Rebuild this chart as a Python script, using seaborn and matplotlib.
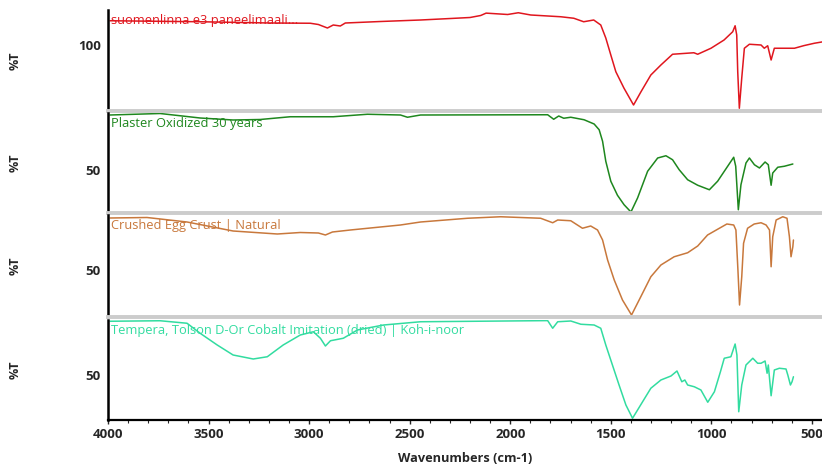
import numpy as np
import pandas as pd
import matplotlib
matplotlib.use("Agg")
import matplotlib.pyplot as plt
from matplotlib.ticker import MultipleLocator
import seaborn as sns

# spectra (wavenumber cm-1, %T)
wn_red = [3990, 3542, 3193, 2994, 2954, 2909, 2880, 2845, 2820, 2645, 2446, 2297, 2200, 2147, 2120,
          2013, 1960, 1898, 1749, 1684, 1635, 1585, 1550, 1525, 1500, 1475, 1435, 1387, 1350, 1301,
          1251, 1193, 1087, 1068, 1002, 937, 894, 882, 874, 869, 861, 849, 836, 811, 753, 737, 720,
          703, 687, 587, 540, 488, 444]
t_red = [119.4, 118.6, 117.6, 117.4, 116.4, 113.6, 116.0, 115.2, 117.6, 118.8, 120.0, 121.2, 122.0, 123.6, 125.5,
         124.4, 125.8, 124.0, 122.6, 121.4, 118.6, 120.0, 116.0, 105.6, 92.0, 78.6, 65.6, 52.0, 62.6, 76.0,
         84.0, 92.6, 93.8, 92.6, 97.4, 104.0, 110.6, 115.4, 108.0, 78.6, 49.4, 73.6, 97.4, 100.6, 100.0, 97.4, 99.4,
         88.0, 97.4, 97.4, 99.5, 101.4, 102.6]

wn_green = [3990, 3741, 3542, 3378, 3243, 3094, 2880, 2710, 2546, 2511, 2446, 1814, 1784, 1759, 1734,
            1699, 1633, 1583, 1558, 1541, 1525, 1500, 1467, 1434, 1400, 1367, 1317, 1267, 1226, 1193,
            1160, 1118, 1068, 1010, 969, 919, 889, 879, 866, 853, 828, 811, 786, 761, 733, 717, 703,
            695, 670, 637, 595]
t_green = [94.0, 95.2, 91.6, 90.0, 90.4, 92.6, 92.6, 94.6, 94.0, 92.2, 94.0, 94.2, 90.6, 93.2, 91.4,
           92.2, 90.2, 86.8, 82.2, 73.0, 57.0, 41.0, 29.8, 22.2, 16.4, 27.6, 49.0, 59.6, 61.4, 58.2,
           50.2, 42.2, 37.8, 34.2, 41.0, 53.0, 60.2, 53.0, 18.2, 38.2, 55.6, 59.6, 54.2, 51.6, 56.4, 54.2, 37.8,
           47.6, 52.2, 53.0, 54.8]

wn_orange = [3990, 3806, 3607, 3378, 3158, 3044, 2954, 2919, 2884, 2795, 2546, 2446, 2212, 2048, 1849,
             1789, 1764, 1699, 1641, 1600, 1566, 1541, 1516, 1483, 1442, 1397, 1351, 1301, 1251, 1185,
             1118, 1068, 1019, 969, 923, 889, 878, 868, 860, 849, 840, 820, 787, 753, 728, 711, 703,
             695, 678, 645, 624, 612, 604, 595, 592]
t_orange = [91.6, 92.0, 88.4, 81.2, 78.8, 80.0, 79.6, 78.0, 80.4, 82.0, 86.0, 88.4, 91.4, 92.6, 91.4,
            87.8, 90.0, 89.4, 83.4, 85.2, 82.0, 74.0, 58.0, 42.0, 26.0, 14.0, 28.6, 44.6, 54.0, 60.6,
            63.8, 69.2, 78.0, 82.6, 86.8, 86.0, 82.0, 50.0, 22.0, 44.6, 71.4, 83.4, 86.8, 87.8, 86.0, 82.0, 52.6,
            76.6, 90.0, 92.6, 91.4, 76.6, 60.6, 68.6, 74.0]

wn_teal = [3990, 3741, 3607, 3542, 3457, 3378, 3278, 3208, 3129, 3044, 2979, 2944, 2919, 2894, 2830,
           2760, 2630, 2446, 1814, 1789, 1764, 1699, 1649, 1583, 1550, 1525, 1492, 1459, 1425, 1392,
           1342, 1301, 1251, 1201, 1171, 1147, 1132, 1118, 1085, 1052, 1018, 985, 955, 936, 903, 882,
           873, 864, 849, 828, 794, 770, 753, 733, 723, 717, 703, 687, 662, 629, 620, 607, 599, 592]
t_teal = [93.0, 93.4, 91.4, 83.4, 74.0, 66.0, 62.8, 64.6, 74.0, 82.0, 84.6, 79.4, 73.2, 77.4, 79.4,
          86.0, 90.0, 92.6, 93.5, 87.4, 92.6, 93.2, 90.6, 90.0, 87.4, 74.0, 58.0, 42.0, 26.0, 15.4,
          28.6, 39.4, 46.0, 49.2, 53.2, 44.6, 46.0, 42.0, 40.6, 38.0, 28.2, 36.6, 52.6, 63.4, 64.6, 74.8,
          66.0, 20.6, 42.0, 58.0, 63.4, 59.4, 59.4, 61.2, 51.4, 58.0, 33.4, 54.0, 55.4, 54.8, 50.0, 42.0, 44.6, 48.6]

names = ["suomenlinna e3 paneelimaali...", "Plaster Oxidized 30 years",
         "Crushed Egg Crust | Natural", "Tempera, Tolson D-Or Cobalt Imitation (dried) | Koh-i-noor"]
colors = ["#e0161e", "#1e871e", "#c8783c", "#32dca0"]
ytick_vals = [100, 50, 50, 50]
ylims = [(47.2, 128.0), (15.6, 95.6), (12.4, 94.0), (14.0, 94.0)]

series = [(wn_red, t_red), (wn_green, t_green), (wn_orange, t_orange), (wn_teal, t_teal)]

sns.set_style("white")
plt.rcParams['font.family'] = ['Open Sans', 'DejaVu Sans']

W, H = 822, 466
fig = plt.figure(figsize=(W / 100, H / 100), dpi=100)

# panel pixel extents (top, bottom)
panels_px = [(10, 111), (113, 213), (215, 317), (320, 420)]
left_px = 108

axes = []
for i, (top, bot) in enumerate(panels_px):
    ax = fig.add_axes([left_px / W, 1 - bot / H, 1 - left_px / W, (bot - top) / H])
    df = pd.DataFrame({"wn": series[i][0], "T": series[i][1]})
    sns.lineplot(data=df, x="wn", y="T", ax=ax, color=colors[i], lw=1.1, sort=False, estimator=None)
    ax.set_xlim(4000, 450)
    ax.set_ylim(*ylims[i])
    ax.set_yticks([ytick_vals[i]])
    ax.set_yticklabels([str(ytick_vals[i])], fontweight="bold", fontsize=9.5)
    ax.tick_params(axis="y", length=0, pad=5)
    ax.set_xlabel("")
    ax.set_ylabel("")
    for s in ["top", "right"]:
        ax.spines[s].set_visible(False)
    ax.spines["left"].set_color("black")
    ax.spines["left"].set_linewidth(1.8)
    if i < 3:
        ax.spines["bottom"].set_color("#cccccc")
        ax.spines["bottom"].set_linewidth(2.8)
        ax.set_xticks([])
    else:
        ax.spines["bottom"].set_color("black")
        ax.spines["bottom"].set_linewidth(1.6)
        ax.xaxis.set_major_locator(MultipleLocator(500))
        ax.xaxis.set_minor_locator(MultipleLocator(100))
        ax.tick_params(axis="x", which="major", direction="out", length=3, width=1, pad=3,
                       bottom=True, labelsize=9.5)
        ax.tick_params(axis="x", which="minor", direction="out", length=2, width=0.8, bottom=True)
        for lab in ax.get_xticklabels():
            lab.set_fontweight("bold")
        ax.set_xlabel("Wavenumbers (cm-1)", fontweight="bold", fontsize=9.2, labelpad=8)
    ax.text(0.004, 0.96, names[i], transform=ax.transAxes, color=colors[i],
            fontsize=9.3, ha="left", va="top")
    fig.text(15 / W, 1 - (top + bot) / 2 / H, "%T", rotation=90, ha="center", va="center",
             fontweight="bold", fontsize=9)
    axes.append(ax)

fig.savefig("out.png", dpi=100)
